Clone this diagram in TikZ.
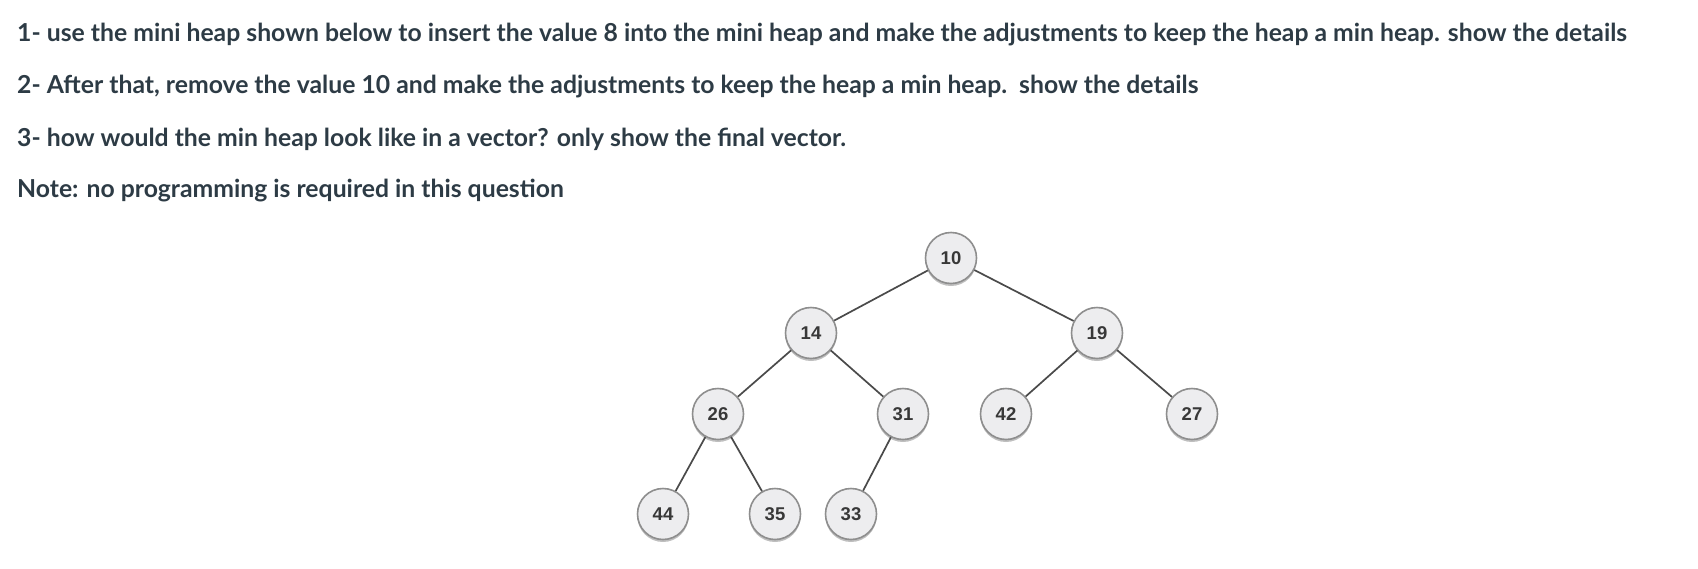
\documentclass[tikz,border=0pt]{standalone}
\usepackage{fontspec}
\setmainfont{Lato}
\newfontfamily\nodefont{Liberation Sans}
\usetikzlibrary{shadows}
\definecolor{txt}{HTML}{2D3B45}
\definecolor{nodefill}{HTML}{EDEDEF}
\definecolor{nodeborder}{HTML}{8E8E8E}
\definecolor{edgecol}{HTML}{4A4A4A}
\tikzset{
  qline/.style={anchor=base west, inner sep=0pt, text=txt, font=\bfseries\fontsize{24.75}{28}\selectfont},
  heapnode/.style={circle, draw=nodeborder, line width=1.6pt, fill=nodefill, minimum size=51pt, inner sep=0pt,
    font=\nodefont\bfseries\fontsize{18.5}{20}\selectfont, text=black!78,
    drop shadow={shadow xshift=0pt, shadow yshift=-2.5pt, opacity=0.25, fill=black}},
  edge/.style={draw=edgecol, line width=1.7pt}
}
\begin{document}
\begin{tikzpicture}[x=1pt,y=-1pt]
\useasboundingbox (0,0) rectangle (1698,568);
\fill[white] (0,0) rectangle (1698,568);
\node[qline] (l1) at (17,41) {1- use the mini heap shown below to insert the value 8 into the mini heap and make the adjustments to keep the heap a min heap. show the details};
\node[qline] (l2) at (17,93) {2- After that, remove the value 10 and make the adjustments to keep the heap a min heap.\ \ show the details};
\node[qline] (l3) at (17,146) {3- how would the min heap look like in a vector? only show the final vector.};
\node[qline] (l4) at (17,197) {Note: no programming is required in this question};

\node[heapnode] (n10) at (951,258) {10};
\node[heapnode] (n14) at (811,333) {14};
\node[heapnode] (n19) at (1097,333) {19};
\node[heapnode] (n26) at (718,414) {26};
\node[heapnode] (n31) at (903,414) {31};
\node[heapnode] (n42) at (1006,414) {42};
\node[heapnode] (n27) at (1192,414) {27};
\node[heapnode] (n44) at (663,514) {44};
\node[heapnode] (n35) at (775,514) {35};
\node[heapnode] (n33) at (851,514) {33};

\draw[edge] (n10) -- (n14);
\draw[edge] (n10) -- (n19);
\draw[edge] (n14) -- (n26);
\draw[edge] (n14) -- (n31);
\draw[edge] (n19) -- (n42);
\draw[edge] (n19) -- (n27);
\draw[edge] (n26) -- (n44);
\draw[edge] (n26) -- (n35);
\draw[edge] (n31) -- (n33);
\end{tikzpicture}
\end{document}
